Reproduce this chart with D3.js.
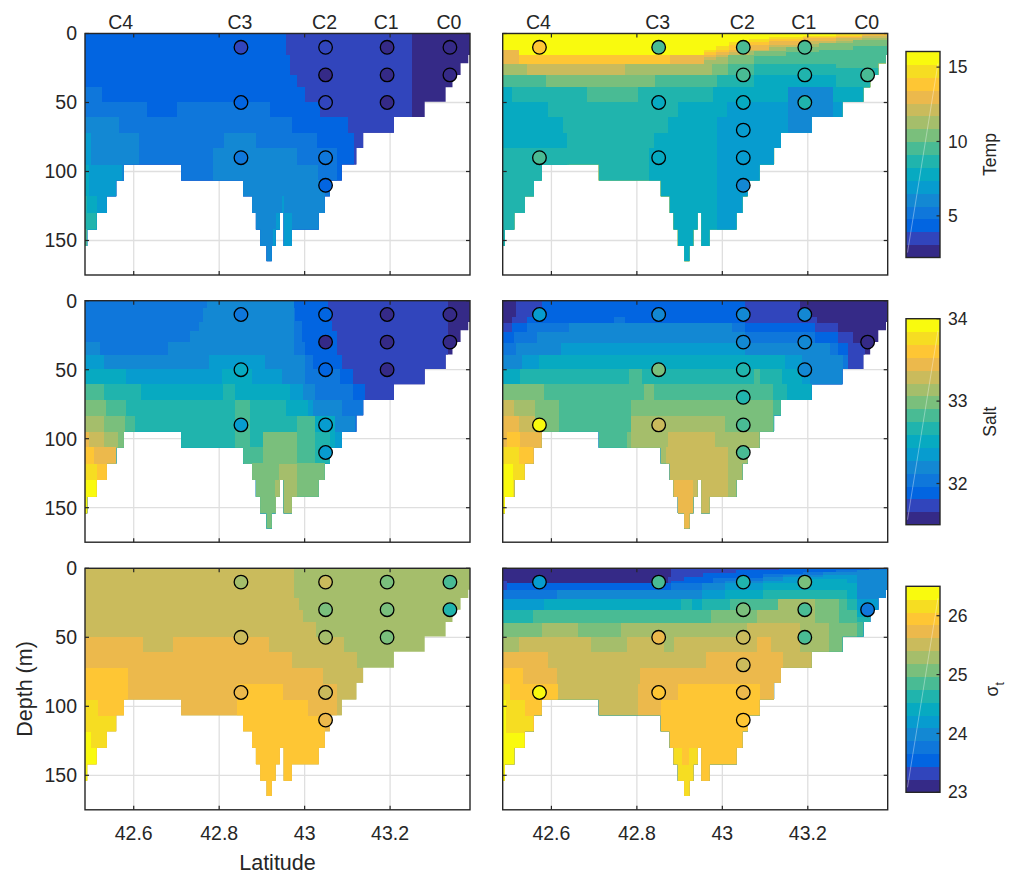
<!DOCTYPE html>
<html><head><meta charset="utf-8">
<script src="https://cdn.jsdelivr.net/npm/d3@7"></script>
<style>
body{margin:0;background:#fff}
svg{display:block}
text{font-family:"Liberation Sans",Arial,Helvetica,sans-serif;fill:#262626}
</style>
</head><body>
<svg id="c" width="1013" height="874"></svg>
<script>
// ---------------- data ----------------
const latTicks = [42.6, 42.8, 43, 43.2];
const depthTicks = [0, 50, 100, 150];
const stationNames = ["C4","C3","C2","C1","C0"];
const stationLat = [42.572, 42.851, 43.049, 43.193, 43.340];

// bottom depth (m), step function starting at each latitude
const bathyLat = [42.486,42.491,42.513,42.537,42.559,42.577,42.711,42.856,42.877,42.886,42.896,42.911,42.923,42.932,42.942,42.951,42.970,43.033,43.047,43.059,43.087,43.121,43.137,43.209,43.281,43.330,43.346,43.365,43.383];
const bathyDepth = [154,142,130,118,106.5,95,106.5,118,130,142,154,165,154,142,130,154,142,130,118,106.5,95,83,72,60.5,49.5,39,30,21.5,15.5];

const tempRange = [2.2, 16.05];
const saltRange = [31.5, 34.0];
const sigmaRange = [23.0, 26.5];
const tempTicks = [5, 10, 15];
const saltTicks = [32, 33, 34];
const sigmaTicks = [23, 24, 25, 26];

// gridded section fields: [lat from, lat to, depth top, depth bottom, value], painted in order
const tempLeftField = [
[42.486,43.387,0,200,2.63],[42.486,43.252,0,200,3.50],
[42.486,42.956,0,200,4.36],[42.956,42.966,15.5,200,4.36],[42.966,42.981,30,200,4.36],[42.981,43.001,39,200,4.36],[43.001,43.036,49.5,200,4.36],[43.036,43.102,60.5,200,4.36],[43.102,43.115,72,200,4.36],
[42.486,42.525,39,200,5.23],[42.525,42.630,49.5,200,5.23],[42.630,42.701,60.5,200,5.23],[42.701,42.919,49.5,200,5.23],[42.919,42.970,60.5,200,5.23],[42.970,43.028,72,200,5.23],[43.028,43.075,83,200,5.23],
[42.486,42.566,60.5,200,6.10],[42.566,42.613,72,200,6.10],[42.786,42.811,83,200,6.10],[42.811,42.886,72,200,6.10],[42.886,42.981,83,200,6.10],[42.981,43.032,95,200,6.10],[43.032,43.048,106.5,200,6.10],
[42.486,42.499,72,200,6.96],[42.499,42.572,95,200,6.96],[42.925,42.932,142,200,6.96],[42.932,42.942,130,200,6.96],[42.946,42.952,118,200,6.96],[42.952,42.970,130,200,6.96],
[42.486,42.496,95,200,7.83],[42.496,42.513,118,200,7.83],
[42.486,42.491,118,200,8.69],[42.491,42.513,130,200,8.69],
[42.486,42.491,142,200,9.56]
];
const tempRightField = [
[42.486,43.387,0,200,15.62],
[42.486,42.523,11.7,200,14.75],[42.523,42.956,15.3,200,14.75],[42.956,42.985,11.7,200,14.75],[42.985,43.016,9,200,14.75],[43.016,43.063,6,200,14.75],[43.063,43.110,4,200,14.75],[43.110,43.188,2.5,200,14.75],[43.188,43.266,1.5,200,14.75],[43.266,43.328,0.5,200,14.75],[43.328,43.387,0,200,14.75],
[42.486,42.523,11.7,200,13.89],[42.523,42.956,15.3,200,13.89],[42.956,42.985,13.5,200,13.89],[42.985,43.016,11.7,200,13.89],[43.016,43.063,8.5,200,13.89],[43.063,43.110,6,200,13.89],[43.110,43.188,4,200,13.89],[43.188,43.266,2.5,200,13.89],[43.266,43.328,1.5,200,13.89],[43.328,43.387,0.5,200,13.89],
[42.486,42.523,11.7,200,13.02],[42.523,42.878,21.8,200,13.02],[42.878,42.985,15.3,200,13.02],[42.985,43.016,13.5,200,13.02],[43.016,43.063,11.7,200,13.02],[43.063,43.110,8,200,13.02],[43.110,43.188,5.5,200,13.02],[43.188,43.266,3.5,200,13.02],[43.266,43.328,2.5,200,13.02],[43.328,43.387,1,200,13.02],
[42.486,42.956,21.8,200,12.15],[42.956,42.985,17,200,12.15],[42.985,43.016,15.3,200,12.15],[43.016,43.063,13.5,200,12.15],[43.063,43.110,11.7,200,12.15],[43.110,43.188,8,200,12.15],[43.188,43.266,5.5,200,12.15],[43.266,43.328,3.5,200,12.15],[43.328,43.387,2,200,12.15],
[42.486,42.542,21.8,200,11.29],[42.542,42.772,30.3,200,11.29],[42.772,42.956,21.8,200,11.29],[42.956,42.985,19,200,11.29],[42.985,43.016,17,200,11.29],[43.016,43.063,15.3,200,11.29],[43.063,43.110,13,200,11.29],[43.110,43.188,10,200,11.29],[43.188,43.266,7.5,200,11.29],[43.266,43.328,5.5,200,11.29],[43.328,43.387,3.5,200,11.29],
[42.486,42.975,30.3,200,10.42],[42.975,43.014,21.8,200,10.42],[43.014,43.073,15.3,200,10.42],[43.073,43.149,12.5,200,10.42],[43.149,43.227,10,200,10.42],[43.227,43.305,7,200,10.42],[43.305,43.387,5,200,10.42],
[42.486,42.587,30.3,200,9.56],[42.587,42.842,39,200,9.56],[42.842,43.014,30.3,200,9.56],[43.014,43.073,21.8,200,9.56],[43.073,43.149,16,200,9.56],[43.149,43.227,13.5,200,9.56],[43.227,43.305,11.7,200,9.56],[43.305,43.387,9,200,9.56],
[42.486,42.683,39,200,8.69],[42.683,42.803,49.5,200,8.69],[42.803,42.987,39,200,8.69],[42.987,43.073,30.3,200,8.69],[43.073,43.266,21.8,200,8.69],[43.266,43.387,25,200,8.69],
[42.486,42.507,39,200,7.83],[42.507,42.591,49.5,200,7.83],[42.591,42.626,60.3,200,7.83],[42.626,42.636,72,200,7.83],[42.828,42.839,83,200,7.83],[42.839,42.874,72,200,7.83],[42.874,42.897,60.3,200,7.83],[42.897,42.979,49.5,200,7.83],[42.979,43.073,39,200,7.83],[43.073,43.266,30.3,200,7.83],[43.266,43.387,39,200,7.83],
[42.486,42.642,83.2,200,8.69],
[42.987,43.012,60.3,200,6.96],[43.012,43.154,49.5,200,6.96],[43.154,43.260,39,200,6.96],[43.260,43.282,49.5,200,6.96],
[43.154,43.260,39,200,6.10]
];
const saltLeftField = [
[42.486,43.387,0,200,31.58],[42.486,43.336,0,200,31.73],
[42.486,43.055,0,200,31.89],[43.055,43.065,15,200,31.89],[43.065,43.075,22,200,31.89],[43.075,43.087,39.5,200,31.89],[43.087,43.114,49.8,200,31.89],[43.114,43.141,60.6,200,31.89],
[42.486,42.974,0,200,32.05],[42.974,42.977,5,200,32.05],[42.977,42.993,15,200,32.05],[42.993,43.001,29.7,200,32.05],[43.001,43.020,39.4,200,32.05],[43.020,43.083,49.8,200,32.05],[43.083,43.114,60.6,200,32.05],[43.114,43.141,72,200,32.05],
[42.486,42.521,29.7,200,32.20],[42.521,42.681,39.4,200,32.20],[42.681,42.732,29.7,200,32.20],[42.732,42.753,22,200,32.20],[42.753,42.763,15.2,200,32.20],[42.763,42.771,5.5,200,32.20],[42.771,42.974,0,200,32.20],[42.974,43.001,39.4,200,32.20],[43.001,43.024,60.6,200,32.20],[43.024,43.087,72,200,32.20],[43.087,43.118,83.6,200,32.20],
[42.486,42.530,39.4,200,32.36],[42.530,42.777,49.8,200,32.36],[42.777,42.907,39.4,200,32.36],[42.907,42.946,49.8,200,32.36],[42.946,42.997,60.6,200,32.36],[42.997,43.020,72,200,32.36],[43.020,43.071,83.6,200,32.36],[43.071,43.102,95,200,32.36],
[42.486,42.582,49.8,200,32.52],[42.582,42.806,60.6,200,32.52],[42.806,42.876,49.8,200,32.52],[42.876,42.966,60.6,200,32.52],[42.966,43.009,72,200,32.52],[43.009,43.071,83.6,200,32.52],
[42.486,42.616,60.6,200,32.67],[42.616,42.810,72,200,32.67],[42.810,42.837,60.6,200,32.67],[42.837,42.956,72,200,32.67],[42.956,43.009,83.6,200,32.67],[43.009,43.059,95,200,32.67],
[42.486,42.530,60.6,200,32.83],[42.530,42.582,72,200,32.83],[42.582,42.603,83.6,200,32.83],[42.837,42.872,72,200,32.83],[42.872,42.903,106,200,32.83],[42.903,42.981,95,200,32.83],[42.981,43.024,83.6,200,32.83],[43.024,43.048,117.9,200,32.83],
[42.486,42.535,72,200,32.98],[42.535,42.580,83.6,200,32.98],[42.580,42.603,95,200,32.98],[42.857,42.903,117.9,200,32.98],[42.903,42.981,95,200,32.98],[42.981,43.048,117.9,200,32.98],
[42.486,42.530,83.6,200,33.14],[42.530,42.564,95,200,33.14],[42.931,42.941,130,200,33.14],[42.941,42.981,118,200,33.14],
[42.486,42.530,95,200,33.30],[42.530,42.559,106,200,33.30],
[42.486,42.496,95,200,33.45],[42.496,42.559,106,200,33.45],
[42.486,42.508,106,200,33.61],[42.508,42.537,118,200,33.61],
[42.486,42.513,118,200,33.77],
[42.486,42.513,130,200,33.92]
];
const saltRightField = [
[42.486,43.387,0,200,31.58],
[42.486,42.507,15.9,200,31.73],[42.507,42.517,11.6,200,31.73],[42.517,43.182,0,200,31.73],[43.182,43.221,11.6,200,31.73],[43.221,43.271,15.9,200,31.73],[43.271,43.305,22.4,200,31.73],[43.305,43.334,30.4,200,31.73],
[42.486,42.507,22.4,200,31.89],[42.507,42.542,15.9,200,31.89],[42.542,42.577,11.6,200,31.89],[42.577,43.053,0,200,31.89],[43.053,43.217,15.9,200,31.89],[43.217,43.271,22.4,200,31.89],[43.271,43.295,30.4,200,31.89],
[42.486,42.513,30.4,200,32.05],[42.513,42.542,22.4,200,32.05],[42.542,42.747,15.9,200,32.05],[42.747,42.772,11.6,200,32.05],[42.772,43.053,15.9,200,32.05],[43.053,43.217,22.4,200,32.05],[43.217,43.271,30.4,200,32.05],[43.271,43.295,39.5,200,32.05],
[42.486,42.517,39.5,200,32.20],[42.517,42.566,30.4,200,32.20],[42.566,42.641,22.4,200,32.20],[42.641,43.022,15.9,200,32.20],[43.022,43.053,22.4,200,32.20],[43.053,43.252,30.4,200,32.20],[43.252,43.282,39.5,200,32.20],
[42.486,42.530,49.2,200,32.36],[42.530,42.622,39.5,200,32.36],[42.622,43.053,30.4,200,32.36],[43.053,43.186,39.5,200,32.36],[43.186,43.205,49.2,200,32.36],
[42.486,42.572,49.2,200,32.52],[42.572,43.147,39.5,200,32.52],[43.147,43.186,49.2,200,32.52],[43.186,43.209,60.6,200,32.52],
[42.486,42.527,60.6,200,32.67],[42.527,43.139,49.2,200,32.67],[43.139,43.151,60.6,200,32.67],
[42.486,42.782,60.6,200,32.83],[42.782,42.811,49.2,200,32.83],[42.811,43.073,60.6,200,32.83],[43.073,43.088,49.2,200,32.83],[43.088,43.119,60.6,200,32.83],[43.119,43.139,72,200,32.83],
[42.486,42.583,60.6,200,32.98],[42.583,42.618,72,200,32.98],[42.778,42.786,95,200,32.98],[42.786,42.817,72,200,32.98],[42.817,42.839,60.6,200,32.98],[42.839,43.119,72,200,32.98],
[42.486,42.562,72,200,33.14],[42.562,42.577,95,200,33.14],[42.786,43.006,83.6,200,33.14],[43.006,43.087,95,200,33.14],
[42.486,42.513,72,200,33.30],[42.513,42.562,83.6,200,33.30],[42.562,42.577,95,200,33.30],[42.867,42.874,106,200,33.30],[42.874,42.983,95,200,33.30],[42.983,43.014,106,200,33.30],
[42.486,42.523,83.6,200,33.45],[42.523,42.577,95,200,33.45],[42.885,42.932,130,200,33.45],
[42.486,42.495,106,200,33.61],[42.495,42.527,95,200,33.61],[42.527,42.558,106,200,33.61],
[42.486,42.525,106,200,33.77],[42.525,42.538,118,200,33.77],
[42.486,42.509,118,200,33.92]
];
const sigmaLeftField = [
[42.486,43.387,0,200,25.30],
[42.486,42.974,0,200,25.52],[42.974,42.987,21.8,200,25.52],[42.987,42.997,30.3,200,25.52],[42.997,43.027,38.8,200,25.52],[43.027,43.091,49.7,200,25.52],[43.091,43.122,60.6,200,25.52],[43.122,43.137,72.2,200,25.52],
[42.486,42.622,49.7,200,25.73],[42.622,42.691,60.6,200,25.73],[42.691,42.917,49.7,200,25.73],[42.917,42.970,60.6,200,25.73],[42.970,43.044,72.2,200,25.73],[43.044,43.075,83.6,200,25.73],
[42.486,42.586,72.2,200,25.95],[42.586,42.595,95.7,200,25.95],[42.841,42.950,83.6,200,25.95],[42.950,43.009,95.7,200,25.95],[43.009,43.048,107,200,25.95],
[42.486,42.516,95.7,200,26.17],[42.516,42.559,107,200,26.17],
[42.486,42.499,118.7,200,26.39],[42.499,42.513,130.4,200,26.39]
];
const sigmaRightField = [
[42.486,43.387,0,200,23.11],
[42.486,42.495,9.5,200,23.33],[42.495,42.874,11,200,23.33],[42.874,42.881,6,200,23.33],[42.881,43.387,0,200,23.33],
[42.486,42.495,15.5,200,23.55],[42.495,42.881,11,200,23.55],[42.881,42.911,9,200,23.55],[42.911,42.954,6,200,23.55],[42.954,43.032,3.5,200,23.55],[43.032,43.133,1.5,200,23.55],[43.133,43.387,0,200,23.55],
[42.486,42.881,15.5,200,23.77],[42.881,42.979,11,200,23.77],[42.979,43.096,7,200,23.77],[43.096,43.188,4,200,23.77],[43.188,43.266,2.5,200,23.77],[43.266,43.344,1,200,23.77],[43.344,43.387,0,200,23.77],
[42.486,42.612,22,200,23.98],[42.612,42.952,15.5,200,23.98],[42.952,43.006,11,200,23.98],[43.006,43.096,9,200,23.98],[43.096,43.143,6.5,200,23.98],[43.143,43.236,4.5,200,23.98],[43.236,43.314,2.5,200,23.98],[43.314,43.387,1,200,23.98],
[42.486,42.952,22,200,24.20],[42.952,43.006,15.5,200,24.20],[43.006,43.096,11,200,24.20],[43.096,43.143,9,200,24.20],[43.143,43.236,6.5,200,24.20],[43.236,43.314,4.5,200,24.20],[43.314,43.387,22,200,24.20],
[42.486,42.583,30.5,200,24.42],[42.583,43.006,22,200,24.42],[43.006,43.096,15.5,200,24.42],[43.096,43.190,11,200,24.42],[43.190,43.291,8,200,24.42],[43.291,43.314,11,200,24.42],[43.314,43.387,30,200,24.42],
[42.486,42.903,30.5,200,24.64],[42.903,42.928,22,200,24.64],[42.928,42.952,30.5,200,24.64],[42.952,43.096,22,200,24.64],[43.096,43.291,15.5,200,24.64],[43.291,43.314,22,200,24.64],[43.314,43.387,35,200,24.64],
[42.486,42.556,39.3,200,24.86],[42.556,43.018,30.5,200,24.86],[43.018,43.291,22,200,24.86],[43.291,43.314,30.5,200,24.86],[43.314,43.334,39,200,24.86],
[42.486,42.973,39.3,200,25.08],[42.973,43.131,30.5,200,25.08],[43.131,43.274,22,200,25.08],[43.274,43.314,39.3,200,25.08],
[42.486,42.577,49.7,200,25.30],[42.577,42.662,39.3,200,25.30],[42.662,42.763,49.7,200,25.30],[42.763,43.080,39.3,200,25.30],[43.080,43.131,30.5,200,25.30],[43.131,43.217,22,200,25.30],[43.217,43.250,39.3,200,25.30],
[42.486,42.523,60.6,200,25.52],[42.523,42.692,49.7,200,25.52],[42.692,42.776,60.6,200,25.52],[42.776,42.864,49.7,200,25.52],[42.864,42.887,60.6,200,25.52],[42.887,43.057,49.7,200,25.52],[43.057,43.182,39.3,200,25.52],[43.182,43.209,60.6,200,25.52],
[42.486,42.593,60.6,200,25.73],[42.593,42.612,72.2,200,25.73],[42.803,42.807,83.6,200,25.73],[42.807,42.962,72.2,200,25.73],[42.962,43.080,60.6,200,25.73],[43.080,43.115,49.7,200,25.73],[43.115,43.141,60.6,200,25.73],
[42.486,42.533,72.2,200,25.95],[42.533,42.616,83.6,200,25.95],[42.857,42.897,95.7,200,25.95],[42.897,43.088,83.6,200,25.95],
[42.486,42.502,83.6,200,26.17],[42.502,42.538,95.7,200,26.17],[42.538,42.558,107,200,26.17],[42.887,42.905,130.4,200,26.17],[42.905,42.923,142.5,200,26.17],[42.923,42.946,130.4,200,26.17],
[42.486,42.494,95.7,200,26.39],[42.494,42.538,119,200,26.39]
];

// bottle samples: [station, depth (m), value]
const tempLeftPts = [["C3",10,3.50],["C3",50,4.36],["C3",90,5.23],["C2",10,3.50],["C2",30,2.63],["C2",50,3.50],["C2",90,5.0],["C2",110,4.5],["C1",10,2.63],["C1",30,2.63],["C1",50,2.63],["C0",10,2.63],["C0",30,2.63]];
const tempRightPts = [["C4",10,13.6],["C4",90,9.56],["C3",10,9.56],["C3",50,7.83],["C3",90,8.1],["C2",10,9.56],["C2",30,9.3],["C2",50,8.1],["C2",70,6.96],["C2",90,6.96],["C2",110,6.10],["C1",10,9.56],["C1",30,8.69],["C1",50,8.69],["C0",30,9.3]];
const saltLeftPts = [["C3",10,32.05],["C3",50,32.52],["C3",90,32.36],["C2",10,31.89],["C2",30,31.58],["C2",50,31.89],["C2",90,32.36],["C2",110,32.36],["C1",10,31.58],["C1",30,31.58],["C1",50,31.58],["C0",10,31.58],["C0",30,31.58]];
const saltRightPts = [["C4",10,32.36],["C4",90,33.92],["C3",10,32.20],["C3",50,32.98],["C3",90,33.30],["C2",10,32.20],["C2",30,32.20],["C2",50,32.67],["C2",70,32.67],["C2",90,32.83],["C2",110,32.83],["C1",10,32.20],["C1",30,32.20],["C1",50,32.20],["C0",30,31.58]];
const sigmaLeftPts = [["C3",10,25.30],["C3",50,25.52],["C3",90,25.73],["C2",10,25.52],["C2",30,25.08],["C2",50,25.30],["C2",90,25.52],["C2",110,25.73],["C1",10,25.08],["C1",30,25.08],["C1",50,25.08],["C0",10,24.86],["C0",30,24.64]];
const sigmaRightPts = [["C4",10,24.20],["C4",90,26.39],["C3",10,24.86],["C3",50,25.73],["C3",90,25.95],["C2",10,24.64],["C2",30,25.08],["C2",50,25.52],["C2",70,25.52],["C2",90,25.73],["C2",110,25.95],["C1",10,25.08],["C1",30,24.86],["C1",50,24.86],["C0",30,23.77]];

// ---------------- style / layout ----------------
const parula16 = ["#352a87","#3145bc","#0265e1","#0f77db","#1388d3","#079ccf","#07aac1","#20b4ad","#49bb94","#7abf7c","#a5be6b","#cabb5c","#ecb94c","#fec634","#f6dd22","#f9fa0e"];
const latDomain = [42.486, 43.387];
const depthDomain = [0, 175];
const colLeft = [85, 502.7];
const rowTop = [33.5, 300.7, 568.3];
const PW = 385, PH = 241.5;
const AX = "#262626", GRID = "#dfdfdf";

const svg = d3.select("#c");

const panels = [
  {row:0,col:0,field:tempLeftField,pts:tempLeftPts,range:tempRange},
  {row:0,col:1,field:tempRightField,pts:tempRightPts,range:tempRange},
  {row:1,col:0,field:saltLeftField,pts:saltLeftPts,range:saltRange},
  {row:1,col:1,field:saltRightField,pts:saltRightPts,range:saltRange},
  {row:2,col:0,field:sigmaLeftField,pts:sigmaLeftPts,range:sigmaRange},
  {row:2,col:1,field:sigmaRightField,pts:sigmaRightPts,range:sigmaRange}
];

function waterPath(x, y){
  const pts = [[x(bathyLat[0]), y(0)]];
  for (let i = 0; i < bathyLat.length; i++){
    const l1 = i + 1 < bathyLat.length ? bathyLat[i+1] : latDomain[1];
    pts.push([x(bathyLat[i]), y(bathyDepth[i])], [x(l1), y(bathyDepth[i])]);
  }
  pts.push([x(latDomain[1]), y(0)]);
  return "M" + pts.map(p => p.join(",")).join("L") + "Z";
}

panels.forEach((p, i) => {
  const g = svg.append("g").attr("transform", `translate(${colLeft[p.col]},${rowTop[p.row]})`);
  const x = d3.scaleLinear().domain(latDomain).range([0, PW]);
  const y = d3.scaleLinear().domain(depthDomain).range([0, PH]);
  const color = d3.scaleQuantize().domain(p.range).range(parula16);

  // grid
  g.selectAll(".gx").data(latTicks).join("line").attr("class","gx")
    .attr("x1", d => x(d)).attr("x2", d => x(d)).attr("y1", 0).attr("y2", PH)
    .attr("stroke", GRID).attr("stroke-width", 1.3);
  g.selectAll(".gy").data(depthTicks).join("line").attr("class","gy")
    .attr("y1", d => y(d)).attr("y2", d => y(d)).attr("x1", 0).attr("x2", PW)
    .attr("stroke", GRID).attr("stroke-width", 1.3);

  // field clipped to water
  const id = "water" + i;
  g.append("clipPath").attr("id", id).append("path").attr("d", waterPath(x, y));
  const fg = g.append("g").attr("clip-path", `url(#${id})`);
  fg.selectAll("rect").data(p.field).join("rect")
    .attr("x", d => x(d[0]))
    .attr("width", d => Math.max(0, x(d[1]) - x(d[0])))
    .attr("y", d => y(d[2]))
    .attr("height", d => y(Math.min(d[3], depthDomain[1])) - y(d[2]) + 1)
    .attr("fill", d => color(d[4]))
    .attr("shape-rendering", "crispEdges");

  // ticks (inside)
  const tl = 4;
  latTicks.forEach(t => {
    g.append("line").attr("x1", x(t)).attr("x2", x(t)).attr("y1", PH).attr("y2", PH - tl).attr("stroke", AX).attr("stroke-width", 1.2);
    g.append("line").attr("x1", x(t)).attr("x2", x(t)).attr("y1", 0).attr("y2", tl).attr("stroke", AX).attr("stroke-width", 1.2);
  });
  depthTicks.forEach(t => {
    g.append("line").attr("y1", y(t)).attr("y2", y(t)).attr("x1", 0).attr("x2", tl).attr("stroke", AX).attr("stroke-width", 1.2);
    g.append("line").attr("y1", y(t)).attr("y2", y(t)).attr("x1", PW).attr("x2", PW - tl).attr("stroke", AX).attr("stroke-width", 1.2);
  });

  // box
  g.append("rect").attr("width", PW).attr("height", PH).attr("fill", "none")
    .attr("stroke", AX).attr("stroke-width", 1.4);

  // samples
  g.selectAll("circle").data(p.pts).join("circle")
    .attr("cx", d => x(stationLat[stationNames.indexOf(d[0])]))
    .attr("cy", d => y(d[1]))
    .attr("r", 6.8)
    .attr("fill", d => color(d[2]))
    .attr("stroke", "#000").attr("stroke-width", 1.3);

  // labels
  if (p.col === 0){
    g.selectAll(".yl").data(depthTicks).join("text").attr("class","yl")
      .attr("x", -8).attr("y", d => y(d)).attr("dy", "0.35em")
      .attr("text-anchor", "end").attr("font-size", 19.5).text(d => d);
  }
  if (p.row === 2){
    g.selectAll(".xl").data(latTicks).join("text").attr("class","xl")
      .attr("x", d => x(d)).attr("y", PH + 23).attr("dy", "0.35em")
      .attr("text-anchor", "middle").attr("font-size", 19.5).text(d => String(d));
  }
  if (p.row === 0){
    g.selectAll(".st").data(stationNames).join("text").attr("class","st")
      .attr("x", (d, k) => x(stationLat[k]) - 1).attr("y", -5)
      .attr("text-anchor", "middle").attr("font-size", 19.5).text(d => d);
  }
});

// axis titles
svg.append("text").attr("x", 277.5).attr("y", 870).attr("text-anchor", "middle")
  .attr("font-size", 21.5).text("Latitude");
svg.append("text").attr("transform", "translate(24,689) rotate(-90)").attr("dy", "0.35em")
  .attr("text-anchor", "middle").attr("font-size", 21.5).text("Depth (m)");

// colorbars
const cbars = [
  {row:0, range:tempRange, ticks:tempTicks, label:"Temp"},
  {row:1, range:saltRange, ticks:saltTicks, label:"Salt"},
  {row:2, range:sigmaRange, ticks:sigmaTicks, label:"sigma"}
];
const CBX = 906, CBW = 34, CBH = 206;
cbars.forEach(c => {
  const top = rowTop[c.row] + 18;
  const g = svg.append("g").attr("transform", `translate(${CBX},${top})`);
  const s = d3.scaleLinear().domain(c.range).range([CBH, 0]);
  const step = (c.range[1] - c.range[0]) / parula16.length;
  const bands = parula16.map((col, k) => ({col, lo: c.range[0] + k * step, hi: c.range[0] + (k + 1) * step}));
  g.selectAll("rect.b").data(bands).join("rect").attr("class","b")
    .attr("x", 0).attr("width", CBW)
    .attr("y", d => s(d.hi)).attr("height", d => s(d.lo) - s(d.hi) + 0.5)
    .attr("fill", d => d.col).attr("shape-rendering", "crispEdges");
  g.append("line").attr("x1", 1.5).attr("y1", CBH - 5).attr("x2", CBW - 2).attr("y2", 12)
    .attr("stroke", "#fff").attr("stroke-opacity", 0.45).attr("stroke-width", 0.8);
  g.append("rect").attr("width", CBW).attr("height", CBH).attr("fill", "none")
    .attr("stroke", AX).attr("stroke-width", 1.4);
  c.ticks.forEach(t => {
    g.append("line").attr("x1", CBW).attr("x2", CBW - 3.5).attr("y1", s(t)).attr("y2", s(t))
      .attr("stroke", AX).attr("stroke-width", 1.2);
    g.append("text").attr("x", CBW + 8).attr("y", s(t)).attr("dy", "0.35em")
      .attr("font-size", 17.5).text(t);
  });
  const lab = svg.append("text")
    .attr("transform", `translate(${c.label === "sigma" ? 992 : 990},${top + CBH / 2}) rotate(-90)`)
    .attr("dy", "0.35em").attr("text-anchor", "middle").attr("font-size", 17.5);
  if (c.label === "sigma"){
    lab.append("tspan").text("\u03c3");
    lab.append("tspan").attr("font-size", 12).attr("dy", "0.45em").text("t");
  } else {
    lab.text(c.label);
  }
});
</script>
</body></html>
